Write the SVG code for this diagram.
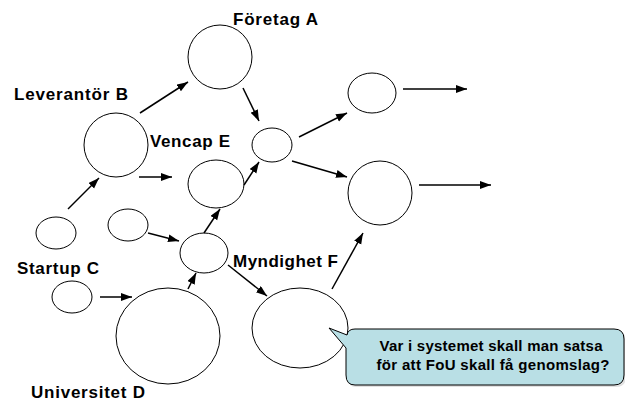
<svg xmlns="http://www.w3.org/2000/svg" width="625" height="403" viewBox="0 0 625 403">
<style>
.n{fill:#fff;stroke:#000;stroke-width:1}
.lbl{font-family:"Liberation Sans",Arial,sans-serif;font-weight:bold;font-size:17px;fill:#000}
.cl{font-family:"Liberation Sans",Arial,sans-serif;font-weight:bold;font-size:15px;fill:#000}
.c line{stroke:#000;stroke-width:1.5;marker-end:url(#ah)}
</style>
<defs>
<marker id="ah" markerUnits="userSpaceOnUse" markerWidth="12" markerHeight="10" refX="11" refY="4" orient="auto">
<path d="M0,0 L11,4 L0,8 Z" fill="#000"/>
</marker>
</defs>
<rect width="625" height="403" fill="#fff"/>
<g id="foretagA"><ellipse class="n" cx="220" cy="57" rx="32" ry="32"/><text class="lbl" x="233" y="25" textLength="85" lengthAdjust="spacing">Företag A</text></g>
<g id="leverantorB"><ellipse class="n" cx="116" cy="145" rx="32" ry="32"/><text class="lbl" x="14" y="100" textLength="114" lengthAdjust="spacing">Leverantör B</text></g>
<g id="hub1"><ellipse class="n" cx="272" cy="145" rx="20" ry="17"/></g>
<g id="vencapE"><ellipse class="n" cx="216" cy="184" rx="28" ry="24"/><text class="lbl" x="150" y="147" textLength="80" lengthAdjust="spacing">Vencap E</text></g>
<g id="outTop"><ellipse class="n" cx="372" cy="93" rx="24" ry="20"/></g>
<g id="outMid"><ellipse class="n" cx="380" cy="193" rx="32" ry="32"/></g>
<g id="startupTop"><ellipse class="n" cx="56" cy="233" rx="20" ry="16"/></g>
<g id="smallMid"><ellipse class="n" cx="128" cy="225" rx="20" ry="16"/></g>
<g id="hub2"><ellipse class="n" cx="204" cy="253" rx="24" ry="20"/></g>
<g id="startupC"><ellipse class="n" cx="72" cy="297" rx="20" ry="16"/><text class="lbl" x="17" y="274" textLength="82" lengthAdjust="spacing">Startup C</text></g>
<g id="universitetD"><ellipse class="n" cx="168" cy="336" rx="52" ry="48"/><text class="lbl" x="31" y="398" textLength="114" lengthAdjust="spacing">Universitet D</text></g>
<g id="myndighetF"><ellipse class="n" cx="300" cy="328" rx="48" ry="40"/><text class="lbl" x="233" y="267" textLength="105" lengthAdjust="spacing">Myndighet F</text></g>
<g id="connectors" class="c">
<line x1="140" y1="113" x2="188" y2="82"/>
<line x1="243" y1="88" x2="259" y2="121"/>
<line x1="139" y1="177" x2="172" y2="177"/>
<line x1="68" y1="209" x2="99" y2="178"/>
<line x1="244" y1="185" x2="259" y2="162"/>
<line x1="299" y1="137" x2="347" y2="113"/>
<line x1="292" y1="161" x2="347" y2="177"/>
<line x1="403" y1="89" x2="467" y2="89"/>
<line x1="419" y1="185" x2="491" y2="185"/>
<line x1="148" y1="233" x2="179" y2="241"/>
<line x1="204" y1="233" x2="220" y2="209"/>
<line x1="100" y1="297" x2="132" y2="297"/>
<line x1="188" y1="289" x2="196" y2="273"/>
<line x1="228" y1="265" x2="267" y2="296"/>
<line x1="332" y1="289" x2="363" y2="233"/>
</g>
<g id="callout">
<path d="M356,331 H616 Q626,331 626,341 V377 Q626,387 616,387 H356 Q348,387 348,377 V350 L331,330 L349,337 Q350,331 356,331 Z" fill="#9a9a9a" opacity="0.3"/>
<path d="M355,329 H614 Q624,329 624,339 V375 Q624,385 614,385 H355 Q346,385 346,375 V348 L329,328 L347,335 Q348,329 355,329 Z" fill="#b9dfe5" stroke="#000" stroke-width="1"/>
<text class="cl" x="491" y="351" text-anchor="middle" textLength="223" lengthAdjust="spacing">Var i systemet skall man satsa</text>
<text class="cl" x="493" y="370" text-anchor="middle" textLength="233" lengthAdjust="spacing">för att FoU skall få genomslag?</text>
</g>
</svg>
